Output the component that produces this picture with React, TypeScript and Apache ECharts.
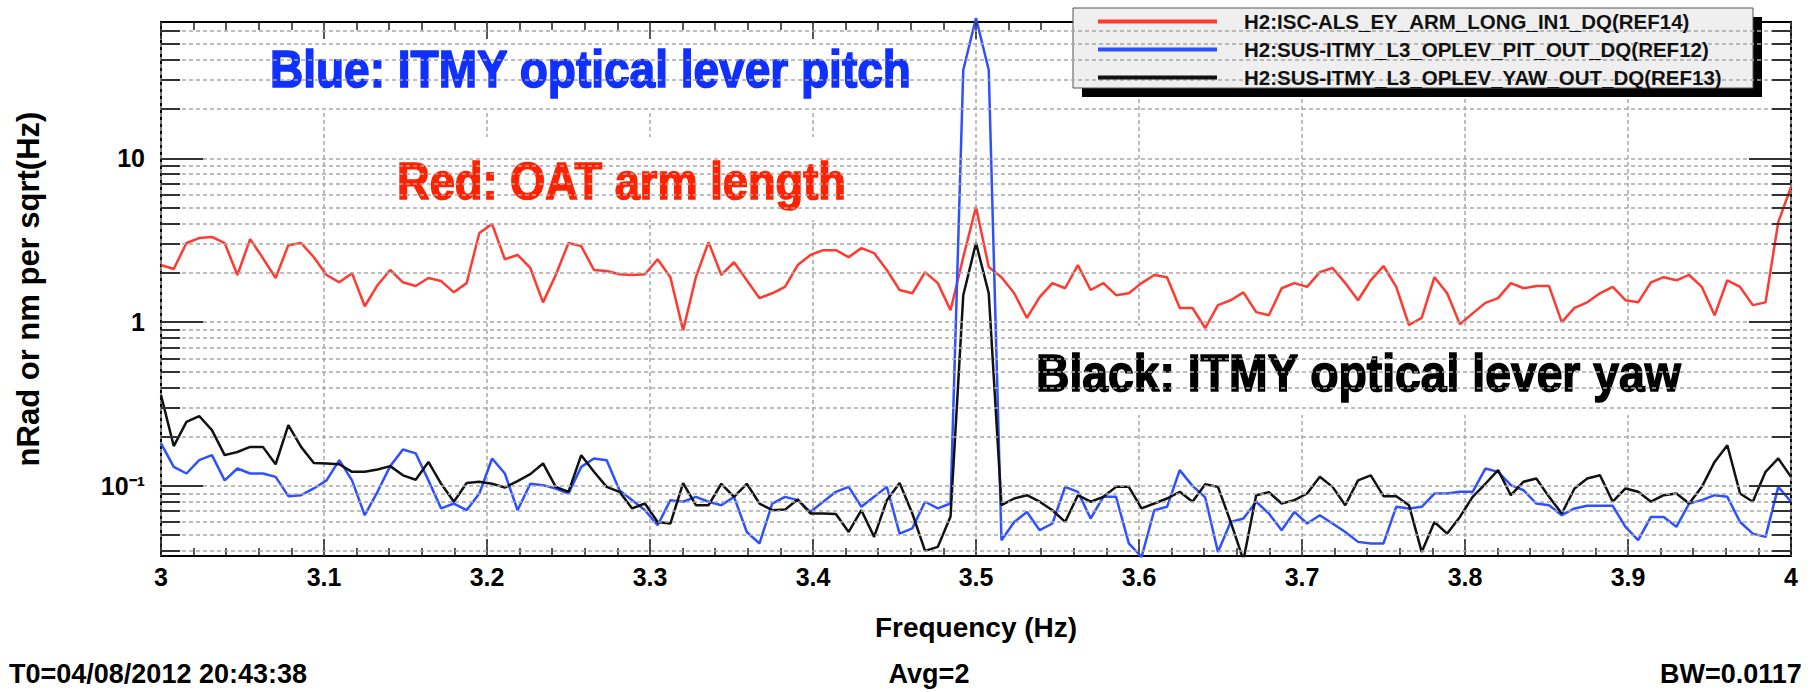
import React, { useEffect, useRef } from 'react';
import * as echarts from 'echarts';

// Frequency bins: start and spacing (Hz)
const F0 = 3;
const DF = 1 / 128;

const seriesNames = [
  'H2:ISC-ALS_EY_ARM_LONG_IN1_DQ(REF14)',
  'H2:SUS-ITMY_L3_OPLEV_PIT_OUT_DQ(REF12)',
  'H2:SUS-ITMY_L3_OPLEV_YAW_OUT_DQ(REF13)',
];
const seriesColors = ['#ff3a30', '#2f50ff', '#111111'];

const redValues = [
  2.23, 2.11, 3.04, 3.26, 3.31, 3.04, 1.94, 3.21, 2.46, 1.86,
  2.95, 3.04, 2.49, 1.94, 1.75, 1.99, 1.25, 1.68, 2.08, 1.75,
  1.66, 1.86, 1.78, 1.52, 1.73, 3.5, 3.97, 2.42, 2.57, 2.14,
  1.32, 1.94, 3.04, 2.91, 2.08, 2.05, 1.96, 1.94, 1.96, 2.42,
  1.88, 0.89, 1.88, 3.08, 1.94, 2.32, 1.8, 1.4, 1.5, 1.64,
  2.23, 2.57, 2.75, 2.75, 2.49, 2.83, 2.64, 2.08, 1.57, 1.5,
  2.02, 1.73, 1.18, 2.49, 5.04, 2.17, 1.88, 1.5, 1.06, 1.42,
  1.73, 1.61, 2.23, 1.57, 1.73, 1.46, 1.5, 1.73, 1.94, 1.88,
  1.22, 1.22, 0.92, 1.27, 1.36, 1.52, 1.15, 1.1, 1.61, 1.73,
  1.64, 2.02, 2.14, 1.73, 1.36, 1.8, 2.2, 1.64, 0.96, 1.06,
  1.88, 1.5, 0.97, 1.13, 1.31, 1.4, 1.73, 1.61, 1.66, 1.66,
  1.0, 1.22, 1.32, 1.5, 1.64, 1.36, 1.32, 1.75, 1.88, 1.8,
  1.94, 1.64, 1.1, 1.8, 1.64, 1.27, 1.32, 4.08, 6.68,
];

const blueValues = [
  0.1815, 0.1306, 0.119, 0.1435, 0.154, 0.108, 0.1276, 0.119, 0.119, 0.1135,
  0.0865, 0.0877, 0.0964, 0.108, 0.1435, 0.108, 0.0662, 0.092, 0.132, 0.1667,
  0.158, 0.108, 0.0728, 0.078, 0.071, 0.0898, 0.147, 0.119, 0.071, 0.103,
  0.101, 0.0964, 0.0898, 0.1306, 0.147, 0.1435, 0.094, 0.0818, 0.071, 0.0575,
  0.0818, 0.08, 0.0857, 0.08, 0.0762, 0.0857, 0.0523, 0.0445, 0.078, 0.0857,
  0.0818, 0.0693, 0.08, 0.092, 0.0986, 0.0745, 0.0857, 0.0986, 0.0511, 0.055,
  0.08, 0.0728, 0.078, 34.6, 72, 34.6, 0.0466, 0.0602, 0.0693, 0.0536,
  0.0589, 0.0986, 0.092, 0.0632, 0.0857, 0.0857, 0.0445, 0.0368, 0.071, 0.0745,
  0.1247, 0.1, 0.085, 0.0395, 0.0602, 0.0632, 0.08, 0.0678, 0.0536, 0.0693,
  0.0589, 0.0662, 0.0589, 0.0523, 0.0455, 0.0445, 0.0445, 0.0745, 0.0728, 0.0745,
  0.0898, 0.0898, 0.092, 0.092, 0.1276, 0.1218, 0.101, 0.094, 0.078, 0.0762,
  0.0662, 0.0728, 0.0755, 0.0755, 0.0755, 0.0562, 0.0466, 0.0646, 0.0646, 0.0562,
  0.078, 0.0818, 0.0877, 0.0857, 0.0602, 0.0511, 0.0488, 0.0986, 0.08,
];

const blackValues = [
  0.358, 0.175, 0.246, 0.267, 0.219, 0.154, 0.161, 0.173, 0.173, 0.1355,
  0.235, 0.173, 0.138, 0.137, 0.1355, 0.1218, 0.1218, 0.126, 0.132, 0.116,
  0.109, 0.14, 0.103, 0.08, 0.104, 0.106, 0.103, 0.0977, 0.107, 0.118,
  0.137, 0.0986, 0.092, 0.154, 0.122, 0.0986, 0.092, 0.0728, 0.078, 0.0602,
  0.0589, 0.104, 0.0762, 0.0762, 0.103, 0.0857, 0.103, 0.078, 0.071, 0.0716,
  0.0826, 0.0678, 0.0678, 0.0673, 0.0523, 0.071, 0.0488, 0.0818, 0.104, 0.0678,
  0.0401, 0.0424, 0.065, 1.46, 3.04, 1.5, 0.0762, 0.0837, 0.0877, 0.08,
  0.071, 0.0602, 0.0877, 0.08, 0.0857, 0.0986, 0.0986, 0.0728, 0.078, 0.0837,
  0.092, 0.08, 0.1024, 0.0986, 0.0602, 0.0352, 0.0877, 0.0914, 0.078, 0.0818,
  0.0898, 0.1135, 0.0986, 0.0762, 0.108, 0.116, 0.0865, 0.0865, 0.0762, 0.0395,
  0.0602, 0.0511, 0.0646, 0.0857, 0.103, 0.1247, 0.0877, 0.106, 0.111, 0.0857,
  0.0678, 0.0964, 0.111, 0.116, 0.08, 0.0964, 0.092, 0.08, 0.0877, 0.0898,
  0.078, 0.0986, 0.14, 0.177, 0.0898, 0.08, 0.1218, 0.147, 0.1135,
];

// Axis ranges and grid values
const xMin = 3;
const xMax = 4;
const xInterval = 0.1;
const yMin = 0.0373;
const yMax = 68;
const decadeValues = [0.1, 1, 10];
const minorValues = [
  0.04, 0.05, 0.06, 0.07, 0.08, 0.09,
  0.2, 0.3, 0.4, 0.5, 0.6, 0.7, 0.8, 0.9,
  2, 3, 4, 5, 6, 7, 8, 9,
  20, 30, 40, 50, 60,
];
const yLabelText: Record<string, string> = { '0.1': '10⁻¹', '1': '1', '10': '10' };

const annotations = [
  { text: 'Blue: ITMY optical lever pitch', color: '#1030ff' },
  { text: 'Red: OAT arm length', color: '#ff2200' },
  { text: 'Black: ITMY optical lever yaw', color: '#000000' },
];
const footer = ['T0=04/08/2012 20:43:38', 'Avg=2', 'BW=0.0117'];

const FONT = "'Liberation Sans', Arial, Helvetica, sans-serif";

export default function App() {
  const ref = useRef<HTMLDivElement>(null);
  useEffect(() => {
    if (!ref.current) return;
    const chart = echarts.init(ref.current, null, { renderer: 'svg' });
    const toData = (vals: number[]) => vals.map((v, i) => [F0 + i * DF, v]);
    const gridLine = { color: '#a8a8a8', width: 1.5, type: [4, 3] as any };
    const tickMinor = 0.0117;
    const tickMajor = 0.0258;
    const tickSegs: any[] = [];
    minorValues.forEach((v) => {
      tickSegs.push([{ coord: [xMin, v] }, { coord: [xMin + tickMinor, v] }]);
      tickSegs.push([{ coord: [xMax - tickMinor, v] }, { coord: [xMax, v] }]);
    });
    decadeValues.forEach((v) => {
      tickSegs.push([{ coord: [xMin, v] }, { coord: [xMin + tickMajor, v] }]);
      tickSegs.push([{ coord: [xMax - tickMajor, v] }, { coord: [xMax, v] }]);
    });
    const bigText = (i: number, x: number, y: number, sx: number) => ({
      type: 'text', z: 3, x, y, scaleX: sx,
      style: {
        text: annotations[i].text, fill: annotations[i].color,
        stroke: annotations[i].color, lineWidth: 1.6,
        font: `bold 52px ${FONT}`, textVerticalAlign: 'middle',
      },
    });

    const option: any = {
      animation: false,
      backgroundColor: '#ffffff',
      grid: {
        left: 161, right: 25, top: 22, bottom: 136,
        show: true, borderColor: '#000', borderWidth: 2, backgroundColor: 'transparent',
      },
      legend: {
        z: 6,
        left: 1098, top: 11, orient: 'vertical',
        itemWidth: 119, itemHeight: 4, itemGap: 7,
        icon: 'rect', padding: 0, selectedMode: false,
        textStyle: {
          fontFamily: FONT, fontWeight: 'bold', fontSize: 20.5, color: '#111',
          lineHeight: 20, padding: [0, 0, 0, 22],
        },
        data: seriesNames,
      },
      xAxis: [
        {
          type: 'value', min: xMin, max: xMax, interval: xInterval, z: 0,
          name: 'Frequency (Hz)', nameLocation: 'middle', nameGap: 57,
          nameTextStyle: { fontFamily: FONT, fontWeight: 'bold', fontSize: 28, color: '#000' },
          axisLine: { show: false },
          axisTick: { show: true, inside: true, length: 17, lineStyle: { color: '#222', width: 1.5 } },
          minorTick: { show: true, splitNumber: 5, length: 8, lineStyle: { color: '#222', width: 1.5 } },
          axisLabel: {
            margin: 8, fontFamily: FONT, fontWeight: 'bold', fontSize: 25, color: '#000',
            formatter: (v: number) => String(Math.round(v * 10) / 10),
          },
          splitLine: { show: true, lineStyle: gridLine },
        },
        {
          type: 'value', min: xMin, max: xMax, interval: xInterval, position: 'top', z: 4,
          axisLine: { show: false },
          axisTick: { show: true, inside: true, length: 17, lineStyle: { color: '#222', width: 1.5 } },
          minorTick: { show: true, splitNumber: 5, length: 8, lineStyle: { color: '#222', width: 1.5 } },
          axisLabel: { show: false },
          splitLine: { show: false },
        },
      ],
      yAxis: {
        type: 'log', logBase: 10, min: yMin, max: yMax,
        name: 'nRad or nm per sqrt(Hz)', nameLocation: 'middle', nameGap: 117,
        nameTextStyle: { fontFamily: FONT, fontWeight: 'bold', fontSize: 31, color: '#000' },
        axisLine: { show: false },
        axisTick: { show: false },
        splitLine: { show: false },
        axisLabel: {
          margin: 16, fontFamily: FONT, fontWeight: 'bold', fontSize: 25, color: '#000',
          showMinLabel: false, showMaxLabel: false,
          formatter: (v: number) => {
            const l = Math.log10(v);
            if (Math.abs(l - Math.round(l)) > 1e-6) return '';
            return yLabelText[String(Math.pow(10, Math.round(l)))] ?? '';
          },
        },
      },
      graphic: [
        { type: 'rect', z: 1, shape: { x: 250, y: 24, width: 690, height: 87 }, style: { fill: '#fff' } },
        { type: 'rect', z: 1, shape: { x: 379, y: 137, width: 560, height: 83 }, style: { fill: '#fff' } },
        { type: 'rect', z: 1, shape: { x: 1017, y: 326, width: 755, height: 89 }, style: { fill: '#fff' } },
        bigText(0, 270, 68.5, 0.885),
        bigText(1, 397, 180.5, 0.87),
        bigText(2, 1036, 372.5, 0.89),
        { type: 'rect', z: 5, shape: { x: 1082, y: 17, width: 680, height: 80 }, style: { fill: '#000' } },
        { type: 'rect', z: 5, shape: { x: 1073, y: 8, width: 680, height: 80 }, style: { fill: '#efefef', stroke: '#555', lineWidth: 1 } },
        {
          type: 'text', z: 3, x: 9, y: 674,
          style: { text: footer[0], fill: '#000', font: `bold 27px ${FONT}`, textVerticalAlign: 'middle' },
        },
        {
          type: 'text', z: 3, x: 929, y: 674,
          style: { text: footer[1], fill: '#000', font: `bold 27px ${FONT}`, textAlign: 'center', textVerticalAlign: 'middle' },
        },
        {
          type: 'text', z: 3, x: 1660, y: 674,
          style: { text: footer[2], fill: '#000', font: `bold 27px ${FONT}`, textVerticalAlign: 'middle' },
        },
      ],
      series: [
        {
          type: 'line', z: 0, silent: true, data: [[xMin, 1]], symbol: 'none',
          lineStyle: { opacity: 0 }, xAxisIndex: 0,
          markLine: {
            silent: true, symbol: 'none', label: { show: false },
            lineStyle: gridLine,
            data: [
              ...minorValues.map((v) => ({ yAxis: v, lineStyle: gridLine })),
              ...decadeValues.map((v) => ({ yAxis: v, lineStyle: gridLine })),
              ...tickSegs.map((s) => [
                { ...s[0], lineStyle: { color: '#333', width: 2, type: 'solid' } },
                s[1],
              ]),
            ],
            emphasis: { disabled: true },
          },
        },
        ...[redValues, blueValues, blackValues].map((vals, k) => ({
          name: seriesNames[k],
          type: 'line', z: 2, xAxisIndex: 0,
          data: toData(vals),
          symbol: 'none', showSymbol: false,
          clip: k !== 1,
          color: seriesColors[k],
          itemStyle: { color: seriesColors[k] },
          lineStyle: { color: seriesColors[k], width: 2.5 },
          emphasis: { disabled: true },
        })),
      ],
    };
    chart.setOption(option);
    return () => chart.dispose();
  }, []);
  return (
    <div
      ref={ref}
      style={{ position: 'fixed', left: 0, top: 0, width: 1816, height: 692, background: '#fff' }}
    />
  );
}
